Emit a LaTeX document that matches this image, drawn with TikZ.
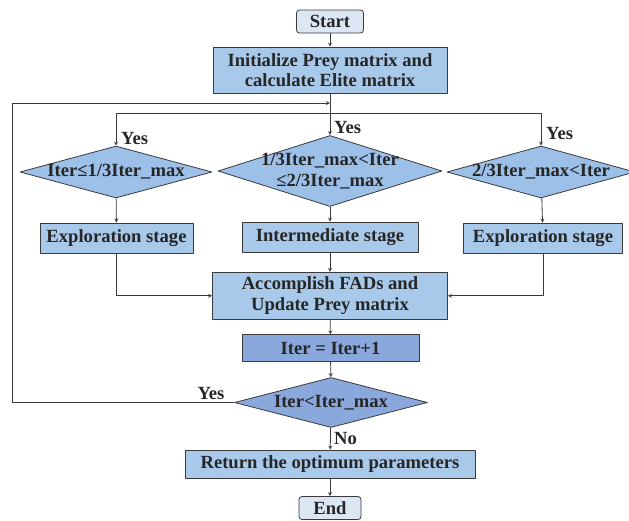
\documentclass[tikz,border=0pt]{standalone}
\usepackage{fontspec}
\setmainfont{Liberation Serif}
\usetikzlibrary{shapes.geometric}
\definecolor{boxblue}{HTML}{A9C9EA}
\definecolor{condblue}{HTML}{9DC0E8}
\definecolor{darkblue}{HTML}{8BA8DD}
\definecolor{termblue}{HTML}{DDE7F4}
\definecolor{linegray}{HTML}{3A3A3A}
\begin{document}
\begin{tikzpicture}[x=1pt, y=-1pt, line join=round, >=stealth,
  font=\fontsize{18.6}{20.5}\selectfont\bfseries,
  conn/.style={draw=linegray, line width=0.8pt},
  box/.style={draw=linegray, line width=0.8pt, fill=boxblue, rectangle, inner sep=0pt, align=center, text=black!85},
  term/.style={box, fill=termblue, rounded corners=3pt},
  cond/.style={draw=linegray, line width=0.8pt, fill=condblue, diamond, inner sep=0pt},
  lbl/.style={inner sep=0pt, text=black!85}]
\useasboundingbox (0,0) rectangle (629,520);
% nodes
\node[term, minimum width=67pt, minimum height=23pt] (start) at (330,21.5) {Start};
\node[box, minimum width=234pt, minimum height=46pt] (init) at (330,70) {Initialize Prey matrix and\\calculate Elite matrix};
\node[cond, minimum width=192pt, minimum height=52pt, label={[lbl]center:Iter≤1/3Iter\_max}] (dl) at (116,172) {};
\node[cond, minimum width=224pt, minimum height=71pt, label={[lbl, align=center]center:1/3Iter\_max<Iter\\≤2/3Iter\_max}] (dm) at (330,171) {};
\node[cond, minimum width=188pt, minimum height=52pt, label={[lbl]center:2/3Iter\_max<Iter}] (dr) at (541,172) {};
\node[box, minimum width=153pt, minimum height=30pt] (el) at (116.5,238) {Exploration stage};
\node[box, minimum width=176pt, minimum height=30pt] (im) at (330,237) {Intermediate stage};
\node[box, minimum width=159pt, minimum height=30pt] (er) at (543,238) {Exploration stage};
\node[box, minimum width=235pt, minimum height=47pt] (acc) at (330,295.7) {Accomplish FADs and\\Update Prey matrix};
\node[box, fill=darkblue, minimum width=177pt, minimum height=27pt] (inc) at (330.5,348.3) {Iter = Iter+1};
\node[cond, fill=darkblue, minimum width=193pt, minimum height=50pt, label={[lbl]center:Iter<Iter\_max}] (chk) at (331,402.5) {};
\node[box, minimum width=290pt, minimum height=28pt] (ret) at (330,464) {Return the optimum parameters};
\node[term, minimum width=62pt, minimum height=23pt] (end) at (330,508) {End};
% branch points
\coordinate (jn) at (330,113);
\coordinate (lp) at (12,103);
\coordinate (jt) at (330,103);
% arrows
\draw[conn, ->] (start) -- (init);
\draw[conn, ->] (init) -- (dm);
\draw[conn, ->] (jn) -| (dl.north);
\draw[conn, ->] (jn) -| (dr.north);
\draw[conn, ->] (dl) -- (el);
\draw[conn, ->] (dm) -- (im);
\draw[conn, ->] (dr) -- (er);
\draw[conn, ->] (el) |- (acc);
\draw[conn, ->] (er) |- (acc);
\draw[conn, ->] (im) -- (acc);
\draw[conn, ->] (acc) -- (inc);
\draw[conn, ->] (inc) -- (chk);
\draw[conn, ->] (chk) -- (ret);
\draw[conn, ->] (ret) -- (end);
\draw[conn, ->] (chk.west) -| (lp) -- (jt);
% labels
\node[lbl, anchor=west] (yl) at (121,138) {Yes};
\node[lbl, anchor=west] (ym) at (334,127) {Yes};
\node[lbl, anchor=west] (yr) at (546,133) {Yes};
\node[lbl] (yb) at (211,393) {Yes};
\node[lbl, anchor=west] (no) at (334,438) {No};
\end{tikzpicture}
\end{document}
